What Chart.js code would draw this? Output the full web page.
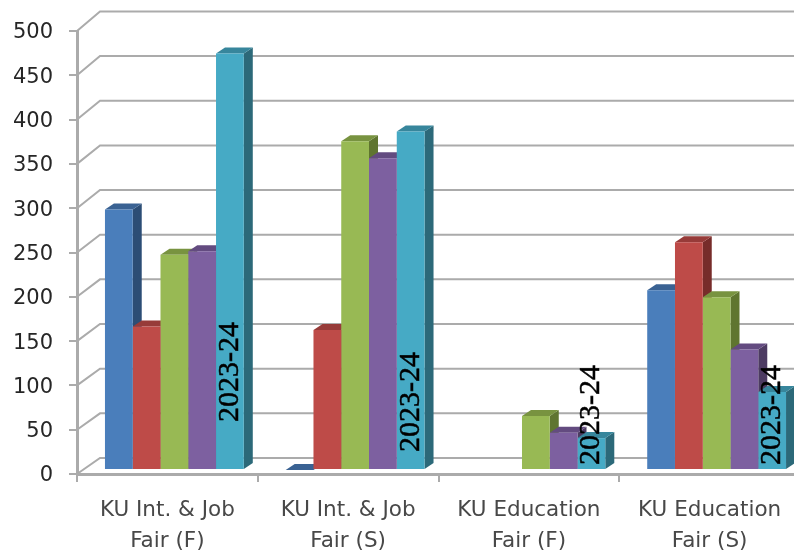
<!DOCTYPE html>
<html>
<head>
<meta charset="utf-8">
<style>
  html, body { margin: 0; padding: 0; width: 794px; height: 554px; overflow: hidden; background: #fff; }
  #wrap { width: 810px; height: 554px; }
  #grafica { filter: blur(0.5px); }
</style>
<script src="https://cdn.jsdelivr.net/npm/chart.js@4/dist/chart.umd.min.js"></script>
</head>
<body>
<div id="wrap"><canvas id="grafica" width="810" height="554"></canvas></div>
<script>
// datos
const categorias = [
  ['KU Int. & Job', 'Fair (F)'],
  ['KU Int. & Job', 'Fair (S)'],
  ['KU Education', 'Fair (F)'],
  ['KU Education', 'Fair (S)'],
];
const serieAzul    = [294, 0, null, 203];
const serieRoja    = [162, 158, null, 257];
const serieVerde   = [243, 371, 61, 195];
const serieMorada  = [247, 352, 42, 136];
const serieTurquesa = [470, 382, 36, 88];
const etiquetaTurquesa = '2023-24';

const series = [serieAzul, serieRoja, serieVerde, serieMorada, serieTurquesa];
const colorFrente = ['#4A7EBB', '#BE4B48', '#98B954', '#7D60A0', '#46AAC5'];
const colorLado   = ['#2C4D75', '#772C2A', '#5F7530', '#4D3B62', '#2C6979'];
const colorTecho  = ['#3A6293', '#973B39', '#789340', '#634B80', '#37869C'];

// ── Perspectiva ──────────────────────────────────────────────────────────
const GRIS = '#ABABAB';
const BARRA_DX = 7, BARRA_DY = -4;     // plano de las barras
const FONDO_DX = 9, FONDO_DY = -6;     // profundidad de cada barra
const PARED_DX = 23;                   // pared del fondo
const ETIQUETA_SUBE = [47, 17, 4, 4];  // px sobre la base de la barra

function poly(ctx, color, pts) {
  ctx.fillStyle = color;
  ctx.beginPath();
  pts.forEach((p, i) => (i ? ctx.lineTo(p[0], p[1]) : ctx.moveTo(p[0], p[1])));
  ctx.closePath();
  ctx.fill();
}

// paredes, y debajo de los frentes los lados y techos de cada barra
const barras3d = {
  id: 'barras3d',
  beforeDatasetsDraw(chart) {
    const { ctx, scales: { x, y }, chartArea: a } = chart;
    ctx.save();
    ctx.strokeStyle = GRIS;
    ctx.lineWidth = 2;
    y.ticks.forEach(t => {
      const py = y.getPixelForValue(t.value);
      const atras = py - 16 - 3.6 * (t.value / y.max);
      ctx.beginPath();
      ctx.moveTo(a.left, py);
      ctx.lineTo(a.left + PARED_DX, atras);
      ctx.lineTo(x.right, atras);
      ctx.stroke();
    });
    ctx.translate(BARRA_DX, BARRA_DY);
    series.forEach((valores, i) => {
      chart.getDatasetMeta(i).data.forEach((el, j) => {
        if (valores[j] === null) return;
        const iz = el.x - el.width / 2, de = el.x + el.width / 2;
        poly(ctx, colorLado[i], [[de, el.y], [de + FONDO_DX, el.y + FONDO_DY], [de + FONDO_DX, el.base + FONDO_DY], [de, el.base]]);
        poly(ctx, colorTecho[i], [[iz, el.y], [iz + FONDO_DX, el.y + FONDO_DY], [de + FONDO_DX, el.y + FONDO_DY], [de, el.y]]);
      });
    });
    ctx.restore();
  },
  beforeDatasetDraw(chart) {
    chart.ctx.save();
    chart.ctx.translate(BARRA_DX, BARRA_DY);
  },
  afterDatasetDraw(chart) {
    chart.ctx.restore();
  },
  afterDatasetsDraw(chart) {
    const { ctx } = chart;
    const meta = chart.getDatasetMeta(series.length - 1);
    ctx.save();
    ctx.fillStyle = '#000';
    ctx.strokeStyle = '#000';
    ctx.lineWidth = 0.5;
    ctx.font = '30px "Liberation Serif", serif';
    ctx.textAlign = 'left';
    ctx.textBaseline = 'middle';
    meta.data.forEach((el, i) => {
      ctx.save();
      ctx.translate(el.x + BARRA_DX, el.base + BARRA_DY - ETIQUETA_SUBE[i]);
      ctx.rotate(-Math.PI / 2);
      ctx.fillText(etiquetaTurquesa, 0, 0);
      ctx.strokeText(etiquetaTurquesa, 0, 0);
      ctx.restore();
    });
    ctx.restore();
  },
};

new Chart(document.getElementById('grafica'), {
  type: 'bar',
  data: {
    labels: categorias,
    datasets: series.map((valores, i) => ({
      data: valores,
      backgroundColor: colorFrente[i],
      borderWidth: 0,
      clip: false,
    })),
  },
  options: {
    responsive: false,
    animation: false,
    categoryPercentage: 0.768,
    barPercentage: 1,
    layout: { padding: { top: 31, right: 10, left: 0, bottom: 0 } },
    plugins: { legend: { display: false }, tooltip: { enabled: false } },
    scales: {
      x: {
        afterFit: s => { s.height = 80; },
        grid: { offset: true, drawOnChartArea: false, color: GRIS, lineWidth: 2, tickLength: 8 },
        border: { color: GRIS, width: 3 },
        ticks: { color: '#484848', font: { size: 21.5, family: 'DejaVu Sans', lineHeight: 1.45 }, maxRotation: 0, padding: 13 },
      },
      y: {
        min: 0,
        max: 500,
        afterFit: s => { s.width = 77; },
        grid: { drawOnChartArea: false, color: GRIS, lineWidth: 2, tickLength: 8 },
        border: { color: GRIS, width: 3 },
        ticks: { stepSize: 50, color: '#262626', font: { size: 21, family: 'DejaVu Sans' }, padding: 16, labelOffset: 2 },
      },
    },
  },
  plugins: [barras3d],
});
</script>
</body>
</html>
